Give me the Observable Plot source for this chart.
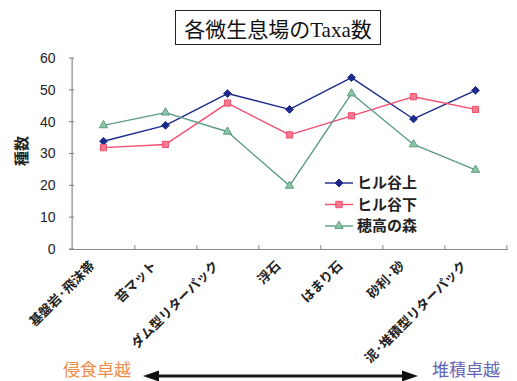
<!DOCTYPE html>
<html>
<head>
<meta charset="utf-8">
<script src="https://cdn.jsdelivr.net/npm/d3@7"></script>
<script src="https://cdn.jsdelivr.net/npm/@observablehq/plot@0.6"></script>
<style>
  body { margin: 0; background: #fff; }
  #wrap { position: relative; width: 517px; height: 381px; overflow: hidden; background: #fff; }
  #wrap > * { position: absolute; }
  .title { left: 175px; top: 10px; width: 204px; height: 33px; border: 1.6px solid #222; display: flex; align-items: center; justify-content: center; font-family: "Liberation Serif", "Noto Sans CJK JP", serif; font-size: 21px; color: #111; }
  .ylab { left: 6px; top: 141px; width: 30px; height: 20px; transform: rotate(-90deg); font-family: "Noto Sans CJK JP", sans-serif; font-weight: bold; font-size: 15px; color: #222; text-align: center; line-height: 20px; }
  .bot { font-family: "Noto Sans CJK JP", sans-serif; font-size: 17px; line-height: 18px; top: 360px; }
</style>
</head>
<body>
<div id="wrap"></div>
<script>
const categories = ["基盤岩·飛沫帯", "苔マット", "ダム型リターパック", "浮石", "はまり石", "砂利·砂", "泥·堆積型リターパック"];
const seriesNames = ["ヒル谷上", "ヒル谷下", "穂高の森"];
const hiruUpper = [34, 39, 49, 44, 54, 41, 50];
const hiruLower = [32, 33, 46, 36, 42, 48, 44];
const hotaka = [39, 43, 37, 20, 49, 33, 25];
const yTicks = [0, 10, 20, 30, 40, 50, 60];
const titleText = "各微生息場のTaxa数";
const yLabel = "種数";
const leftNote = "侵食卓越";
const rightNote = "堆積卓越";

const colors = ["#1c2a8c", "#f04d6d", "#5a9c80"];
const fills = ["#1c2a8c", "#f47a90", "#8cc4a8"];
const symbols = ["diamond2", "square", "triangle"];

const seriesValues = [hiruUpper, hiruLower, hotaka];
const data = [];
seriesValues.forEach((vals, s) => vals.forEach((v, i) => data.push({series: seriesNames[s], cat: categories[i], value: v})));

const W = 517, H = 381, mL = 69, mR = 9, mT = 58, mB = 132;
const step = (W - mL - mR) / categories.length;
const tickLen = 60 * 4 / (H - mT - mB);

const marks = [
  Plot.ruleY([0], {stroke: "#8a8a8a", strokeWidth: 1.2}),
  Plot.ruleX([categories[0]], {dx: -step / 2, y1: 0, y2: 60, stroke: "#8a8a8a", strokeWidth: 1.2}),
  Plot.ruleX(categories, {x: d => d, dx: step / 2, y1: 0, y2: tickLen, stroke: "#8a8a8a", strokeWidth: 1}),
];
seriesNames.forEach((name, s) => {
  const d = data.filter(r => r.series === name);
  marks.push(Plot.line(d, {x: "cat", y: "value", stroke: colors[s], strokeWidth: 1.4}));
  marks.push(Plot.dot(d, {x: "cat", y: "value", symbol: () => symbols[s], r: s === 2 ? 3.1 : 3.5, fill: fills[s], stroke: colors[s], strokeWidth: 1}));
});
marks.push(Plot.text(categories, {x: d => d, frameAnchor: "bottom", text: d => d, rotate: -45, textAnchor: "end", dx: -8, dy: 17, fontSize: 13, fontWeight: "bold", fill: "#222", fontFamily: "Noto Sans CJK JP"}));

const chart = Plot.plot({
  width: W, height: H,
  marginLeft: mL, marginRight: mR, marginTop: mT, marginBottom: mB,
  style: {fontFamily: "Liberation Sans, Arial, sans-serif", fontSize: "14px", color: "#222", background: "transparent"},
  x: {type: "point", domain: categories, padding: 0.5, axis: null},
  y: {domain: [0, 60], ticks: yTicks, tickSize: 0, tickPadding: 14, label: null, tickFormat: d => String(d)},
  marks
});

const wrap = document.getElementById("wrap");
chart.style.left = "0px"; chart.style.top = "0px";
wrap.appendChild(chart);

// inward y ticks, drawn from the chart's own y scale
const ys = chart.scale("y");
const svg = d3.select(chart);
const g = svg.append("g").attr("stroke", "#8a8a8a").attr("stroke-width", 1.2);
yTicks.forEach(t => {
  const yy = ys.apply(t);
  g.append("line").attr("x1", mL).attr("x2", mL + 5).attr("y1", yy).attr("y2", yy);
});

// title
const title = document.createElement("div");
title.className = "title"; title.textContent = titleText;
wrap.appendChild(title);

// y label
const yl = document.createElement("div");
yl.className = "ylab"; yl.textContent = yLabel;
wrap.appendChild(yl);

// legend
const leg = d3.create("svg").attr("width", 120).attr("height", 70).style("left", "320px").style("top", "170px");
const symMap = {diamond2: d3.symbolDiamond2, square: d3.symbolSquare, triangle: d3.symbolTriangle};
seriesNames.forEach((name, s) => {
  const y = 13 + s * 21.5;
  leg.append("line").attr("x1", 5).attr("x2", 33).attr("y1", y).attr("y2", y).attr("stroke", colors[s]).attr("stroke-width", 1.4);
  leg.append("path").attr("d", d3.symbol(symMap[symbols[s]], s === 2 ? 30 : 40)()).attr("transform", `translate(19,${y})`)
    .attr("fill", fills[s]).attr("stroke", colors[s]).attr("stroke-width", 1);
  leg.append("text").attr("x", 37).attr("y", y).attr("dy", "0.36em").attr("font-size", 15).attr("font-weight", "bold")
    .attr("font-family", "Noto Sans CJK JP").attr("fill", "#222").text(name);
});
wrap.appendChild(leg.node());

// bottom notes and arrow
const ln = document.createElement("div");
ln.className = "bot"; ln.style.left = "63px"; ln.style.color = "#f08c4c"; ln.textContent = leftNote;
wrap.appendChild(ln);
const rn = document.createElement("div");
rn.className = "bot"; rn.style.left = "432px"; rn.style.color = "#6464b4"; rn.textContent = rightNote;
wrap.appendChild(rn);
const arr = d3.create("svg").attr("width", 290).attr("height", 20).style("left", "135px").style("top", "366px");
arr.append("line").attr("x1", 20).attr("x2", 270).attr("y1", 10).attr("y2", 10).attr("stroke", "#1a1a1a").attr("stroke-width", 3);
arr.append("path").attr("d", "M8,10 L24,4.5 L24,15.5 Z").attr("fill", "#111");
arr.append("path").attr("d", "M283,10 L267,4.5 L267,15.5 Z").attr("fill", "#111");
wrap.appendChild(arr.node());
</script>
</body>
</html>
